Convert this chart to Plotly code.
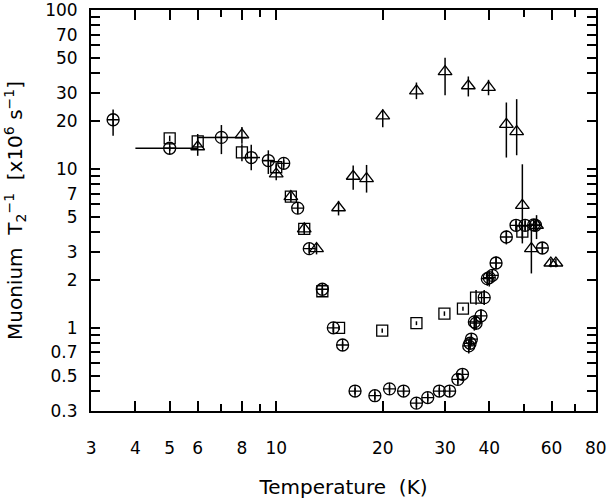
import plotly.graph_objects as go
import math

# ---- data ----
circ_T = [3.46, 5.0, 7.0, 8.5, 9.5, 10.5, 11.5, 12.4, 13.5, 14.5, 15.4, 16.7, 19.0, 20.9, 22.9,
          24.9, 26.8, 28.9, 30.9, 32.6, 33.6, 35.0, 35.3, 35.6, 36.3, 36.7, 37.9, 38.7, 39.5,
          40.0, 40.8, 41.8, 44.7, 47.6, 50.5, 53.4, 54.0, 56.5]
circ_R = [20.4, 13.5, 15.8, 11.8, 11.3, 10.85, 5.67, 3.15, 1.75, 1.0, 0.78, 0.40, 0.374, 0.413, 0.40,
          0.336, 0.364, 0.40, 0.40, 0.474, 0.51, 0.77, 0.80, 0.85, 1.09, 1.07, 1.19, 1.55, 2.04,
          2.07, 2.14, 2.56, 3.73, 4.42, 4.42, 4.45, 4.42, 3.18]
circ_eyp = [3.3, 0.5, 3.1, 2.4, 1.8, 0.5, 0.5, 0.2, 0.12, 0.06, 0.04, 0.02, 0.02, 0.02, 0.02,
            0.02, 0.02, 0.02, 0.02, 0.03, 0.035, 0.06, 0.06, 0.07, 0.11, 0.1, 0.12, 0.18, 0.2,
            0.16, 0.2, 0.25, 0.37, 0.3, 0.3, 0.3, 0.3, 0.25]
circ_eym = [4.2, 0.5, 3.4, 2.0, 2.0, 0.5, 0.45, 0.2, 0.12, 0.06, 0.04, 0.02, 0.02, 0.02, 0.02,
            0.02, 0.02, 0.02, 0.02, 0.03, 0.035, 0.08, 0.06, 0.07, 0.13, 0.1, 0.12, 0.16, 0.2,
            0.25, 0.2, 0.22, 0.38, 0.3, 0.3, 0.3, 0.3, 0.25]
circ_exp = [0, 1.0, 1.25, 0.5, 0.3] + [0] * 33
circ_exm = [0, 1.0, 1.0, 0.43, 0.33] + [0] * 33

sq_T = [5.0, 6.0, 8.0, 10.0, 11.0, 12.0, 13.5, 15.05, 19.93, 24.9, 29.87, 33.7, 36.7, 49.6]
sq_R = [15.6, 14.9, 12.7, 10.25, 6.7, 4.2, 1.7, 1.0, 0.96, 1.07, 1.23, 1.32, 1.55, 4.03]
sq_eyp = [0.6, 0.8, 1.6, 0.4, 0.3, 0.2, 0.07, 0.03, 0.03, 0.03, 0.04, 0.04, 0.18, 0.4]
sq_eym = [0.6, 0.8, 1.5, 0.4, 0.3, 0.2, 0.07, 0.03, 0.03, 0.03, 0.04, 0.04, 0.15, 0.4]

tri_T = [6.0, 8.0, 10.0, 11.0, 12.0, 13.0, 15.0, 16.5, 18.0, 20.0, 24.9, 30.0, 34.9, 39.8,
         44.7, 47.8, 49.6, 52.6, 54.4, 59.7, 61.7]
tri_R = [13.8, 16.4, 9.3, 6.7, 4.2, 3.15, 5.7, 9.0, 8.7, 21.6, 31.0, 41.0, 33.4, 32.6,
         19.1, 17.2, 5.9, 3.15, 4.42, 2.56, 2.56]
tri_eyp = [2.8, 2.0, 1.7, 0.5, 0.35, 0.25, 0.6, 1.5, 1.9, 2.1, 4.0, 9.2, 4.8, 3.8,
           7.1, 10.3, 4.8, 1.0, 0.7, 0.15, 0.15]
tri_eym = [1.7, 2.0, 0.8, 0.5, 0.35, 0.25, 0.6, 1.6, 1.6, 3.3, 3.5, 11.9, 4.8, 3.5,
           7.3, 5.0, 2.5, 0.95, 0.8, 0.15, 0.15]

x_ticks = [3, 4, 5, 6, 8, 10, 20, 30, 40, 60, 80]
x_minor = [7, 9, 50, 70]
y_ticks = [0.3, 0.5, 0.7, 1, 2, 3, 5, 7, 10, 20, 30, 50, 70, 100]
y_minor = [0.4, 0.6, 0.8, 0.9, 4, 6, 8, 9, 40, 60, 80, 90]

FONT = "DejaVu Sans ExtraLight, DejaVu Sans"
BLACK = "black"

def eb(plus, minus):
    return dict(type="data", symmetric=False, array=plus, arrayminus=minus,
                color=BLACK, thickness=1.5, width=0)

fig = go.Figure()
fig.add_trace(go.Scatter(
    x=circ_T, y=circ_R, mode="markers", name="circles",
    marker=dict(symbol="circle-cross-open", size=12, color=BLACK, line=dict(width=1.3, color=BLACK)),
    error_y=eb(circ_eyp, circ_eym), error_x=eb(circ_exp, circ_exm)))
fig.add_trace(go.Scatter(
    x=sq_T, y=sq_R, mode="markers", name="squares",
    marker=dict(symbol="square-open", size=11, color=BLACK, line=dict(width=1.3, color=BLACK)),
    error_y=eb(sq_eyp, sq_eym)))
fig.add_trace(go.Scatter(
    x=tri_T, y=tri_R, mode="markers", name="triangles",
    marker=dict(symbol="triangle-up-open", size=12, color=BLACK, line=dict(width=1.3, color=BLACK)),
    error_y=eb(tri_eyp, tri_eym)))

fig.update_layout(
    width=608, height=499,
    margin=dict(l=91, r=12, t=10, b=88),
    paper_bgcolor="white", plot_bgcolor="white",
    showlegend=False,
    font=dict(family=FONT, size=17, color=BLACK),
    xaxis=dict(
        type="log", range=[math.log10(3) - 0.0005, math.log10(80) + 0.0005],
        automargin=False, ticklabeloverflow="allow",
        showline=True, linecolor=BLACK, linewidth=2, mirror="ticks",
        showgrid=False, zeroline=False,
        ticks="inside", ticklen=10, tickwidth=1.5, tickcolor=BLACK,
        tickmode="array", tickvals=x_ticks, ticktext=[str(v) for v in x_ticks],
        ticklabelstandoff=21,
        minor=dict(tickmode="array", tickvals=x_minor, ticks="inside", ticklen=7,
                   tickwidth=1.5, tickcolor=BLACK, showgrid=False),
        title=dict(text="Temperature  (K)", font=dict(family=FONT, size=20), standoff=28),
    ),
    yaxis=dict(
        type="log", range=[math.log10(0.3) - 0.0005, 2.0005],
        automargin=False, ticklabeloverflow="allow",
        showline=True, linecolor=BLACK, linewidth=2, mirror="ticks",
        showgrid=False, zeroline=False,
        ticks="inside", ticklen=9, tickwidth=1.5, tickcolor=BLACK,
        tickmode="array", tickvals=y_ticks, ticktext=[("%g" % v) for v in y_ticks],
        ticklabelstandoff=8,
        minor=dict(tickmode="array", tickvals=y_minor, ticks="inside", ticklen=9,
                   tickwidth=1.5, tickcolor=BLACK, showgrid=False),
        title=dict(text="Muonium  T<sub>2</sub><sup>\u22121</sup>  [x10<sup>6</sup> s<sup>\u22121</sup>]",
                   font=dict(family=FONT, size=20), standoff=17),
    ),
)

fig.write_html("out.html")
